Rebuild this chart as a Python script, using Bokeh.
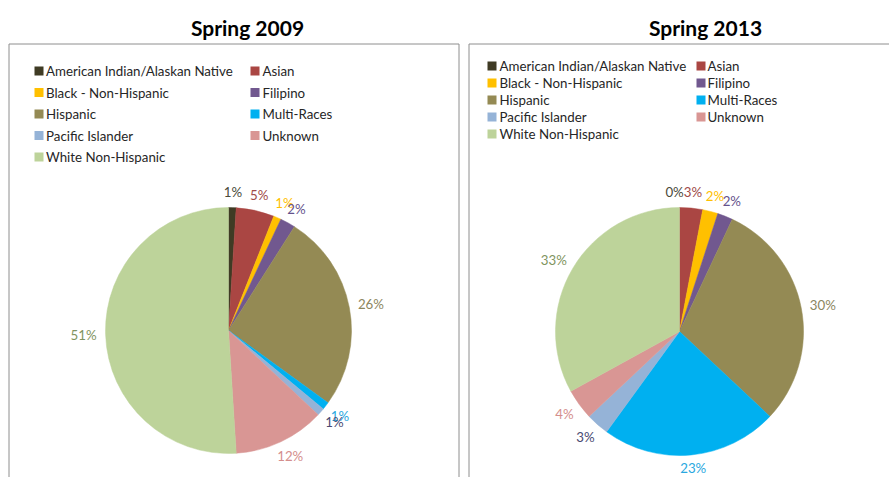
import numpy as np
from bokeh.plotting import figure
from bokeh.models import ColumnDataSource, Range1d
from bokeh.layouts import row
from bokeh.embed import file_html
from bokeh.resources import INLINE
from bokeh.core.properties import value

# ---- data ----
categories = ["American Indian/Alaskan Native", "Asian", "Black - Non-Hispanic",
              "Filipino", "Hispanic", "Multi-Races", "Pacific Islander",
              "Unknown", "White Non-Hispanic"]
share_2009 = [1, 5, 1, 2, 26, 1, 1, 12, 51]
share_2013 = [0, 3, 2, 2, 30, 23, 3, 4, 33]
titles = ["Spring 2009", "Spring 2013"]

# ---- style ----
slice_colors = ["#3f3b24", "#aa4643", "#ffc000", "#71588f", "#948a54",
                "#00b0f0", "#95b3d7", "#d99694", "#bdd39a"]
label_colors = ["#4a4a3a", "#a04a48", "#ffc000", "#65528c", "#8c8660",
                "#2aa8e0", "#4a4a72", "#d48e8c", "#7f9460"]
FONT = "Lato"
FS = "13.3px"
H = 477


def make_panel(title, shares, W, box_l, box_r, cx, cy_s, R,
               leg_y0, leg_dy, sq_x, txt_x, title_x):
    p = figure(width=W, height=H, x_range=Range1d(0, W), y_range=Range1d(0, H),
               output_backend="svg", toolbar_location=None, min_border=0,
               x_axis_location=None, y_axis_location=None)
    p.grid.visible = False
    p.outline_line_color = None
    p.background_fill_color = "white"
    p.border_fill_color = "white"

    # panel border (open at bottom, as in the reference crop)
    top = H - 43.5
    p.line(x=[box_l, box_l, box_r, box_r], y=[-10, top, top, -10],
           line_color="#8e8e8e", line_width=1)

    # title
    p.text(x=[title_x], y=[H - 27], text=[title], text_font=value(FONT),
           text_font_style="bold", text_font_size="21px", text_align="center",
           text_baseline="alphabetic", text_color="#000000")

    # pie
    vals = np.array(shares, dtype=float)
    frac = vals / vals.sum()
    cum_end = np.cumsum(frac)
    cum_start = cum_end - frac
    start = np.pi / 2 - 2 * np.pi * cum_end
    end = np.pi / 2 - 2 * np.pi * cum_start
    cy = H - cy_s
    keep = vals > 0
    src = ColumnDataSource(dict(start=start[keep], end=end[keep],
                                color=[c for c, k in zip(slice_colors, keep) if k]))
    p.wedge(x=cx, y=cy, radius=R, start_angle="start", end_angle="end",
            direction="anticlock", fill_color="color", line_color="color",
            line_width=0.5, source=src)

    # data labels: box placed just outside the rim
    texts = [f"{int(v)}%" for v in shares]
    tw = np.array([7.7 * (len(t) - 1) + 10.6 for t in texts])
    th = 14.0
    mid = 2 * np.pi * (cum_start + cum_end) / 2
    gap = 9.0
    lx = cx + (R + gap) * np.sin(mid) + tw / 2 * np.sin(mid)
    ly_ = cy + (R + gap) * np.cos(mid) + th / 2 * np.cos(mid)
    ly_ = np.maximum(ly_, th / 2 + 3)  # keep labels inside the picture
    # simple de-overlap of neighbouring labels
    for i in range(1, len(lx)):
        if abs(ly_[i] - ly_[i - 1]) < th * 0.6:
            need = (tw[i] + tw[i - 1]) / 2
            d = lx[i] - lx[i - 1]
            if 0 <= d < need and shares[i - 1] == 0:
                lx[i - 1] -= (need - d)
    lsrc = ColumnDataSource(dict(x=lx, y=ly_, text=texts, color=label_colors))
    p.text(x="x", y="y", text="text", text_color="color", source=lsrc,
           text_font=value(FONT), text_font_size=FS, text_align="center",
           text_baseline="middle")

    # legend (two columns, row-major)
    idx = np.arange(len(categories))
    rows_ = idx // 2
    cols_ = idx % 2
    gy = H - (leg_y0 + leg_dy * rows_)
    gsrc = ColumnDataSource(dict(sx=np.array(sq_x)[cols_], tx=np.array(txt_x)[cols_],
                                 y=gy, color=slice_colors, text=categories))
    p.rect(x="sx", y="y", width=9, height=9, fill_color="color", line_color=None,
           source=gsrc)
    p.text(x="tx", y="y", text="text", source=gsrc, text_font=value(FONT),
           text_font_size=FS, text_baseline="middle", text_align="left",
           text_color="#262626")
    return p


p1 = make_panel(titles[0], share_2009, 460, 8.5, 458.5, 228, 330, 123,
                70.5, 21.5, [38.5, 254.5], [45.5, 262], 247)
p2 = make_panel(titles[1], share_2013, 429, 8.5, 440, 219, 331, 124,
                65.5, 17, [31.5, 240.5], [39, 247], 245)

layout = row(p1, p2)
open("out.html", "w").write(file_html(layout, INLINE))
